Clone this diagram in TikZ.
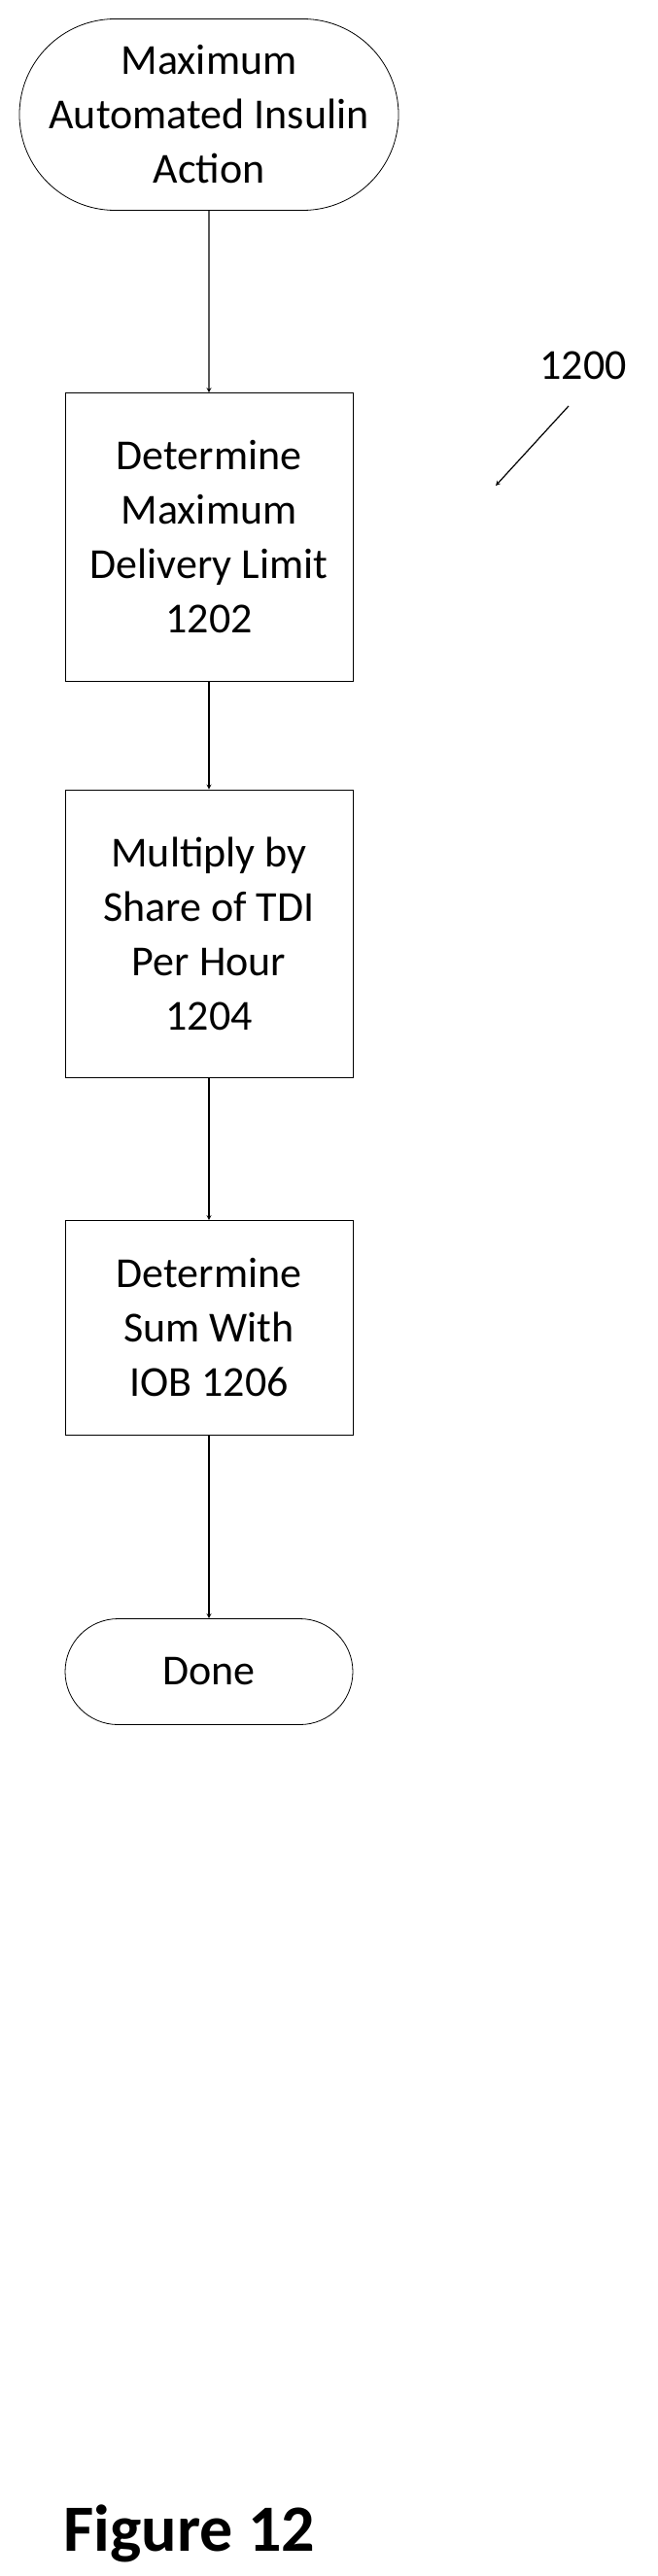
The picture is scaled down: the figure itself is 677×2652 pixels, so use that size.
\documentclass[tikz,border=0pt]{standalone}
\usepackage{fontspec}
\setmainfont{Carlito}
\usetikzlibrary{shapes.misc}
\begin{document}
\begin{tikzpicture}[x=1pt,y=-1pt,thick,font=\fontsize{44}{56}\selectfont,
	stepbox/.style={draw,align=center,inner sep=0pt},
	endbox/.style={draw,rounded rectangle,align=center,inner sep=0pt},
	flow/.style={->,>=stealth,line width=1.2pt}]
	\useasboundingbox (0,0) rectangle (677,2652);
	%terminals
	\node[endbox,minimum width=390pt,minimum height=197pt] (start) at (215,118) {Maximum\\Automated Insulin\\Action};
	\node[endbox,minimum width=296pt,minimum height=109pt] (done) at (215,1721) {Done};
	
	%steps
	\node[stepbox,minimum width=296pt,minimum height=297pt] (limit) at (215,553) {Determine\\Maximum\\Delivery Limit\\1202};
	\node[stepbox,minimum width=296pt,minimum height=296pt] (share) at (215,961) {Multiply by\\Share of TDI\\Per Hour\\1204};
	\node[stepbox,minimum width=296pt,minimum height=221pt] (sum) at (215,1367) {Determine\\Sum With\\IOB 1206};
	
	%arrows
	\draw[flow] (start) -- (limit);
	\draw[flow] (limit) -- (share);
	\draw[flow] (share) -- (sum);
	\draw[flow] (sum) -- (done);
	
	%labels
	\node (ref) at (600,376) {1200};
	\coordinate (tip) at (510,500);
	\draw[flow] (585,418) -- (tip);
	\node[font=\fontsize{68}{80}\selectfont\bfseries] (fig) at (195,2608) {Figure 12};
\end{tikzpicture}
\end{document}
